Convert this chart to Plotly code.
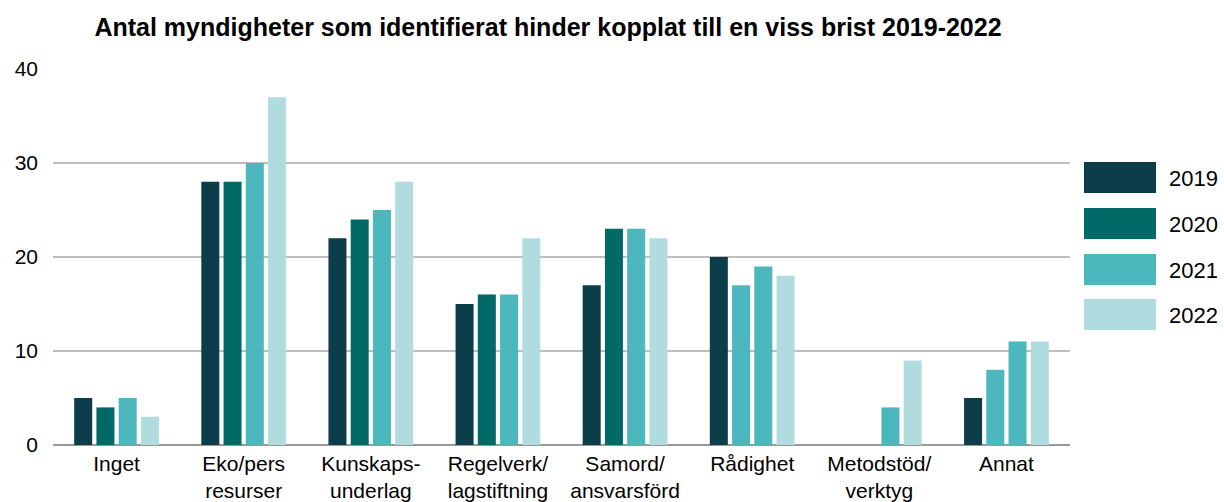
import plotly.graph_objects as go

categories = ["Inget", "Eko/pers<br>resurser", "Kunskaps-<br>underlag", "Regelverk/<br>lagstiftning",
              "Samord/<br>ansvarsförd", "Rådighet", "Metodstöd/<br>verktyg", "Annat"]
years = ["2019", "2020", "2021", "2022"]
v2019 = [5, 28, 22, 15, 17, 20, 0, 5]
v2020 = [4, 28, 24, 16, 23, 17, 0, 8]
v2021 = [5, 30, 25, 16, 23, 19, 4, 11]
v2022 = [3, 37, 28, 22, 22, 18, 9, 11]
colors = ["#0c3e4a", "#016966", "#4cb8bd", "#b0dcdf"]
# In the reference, the 2020 bars for Rådighet and Annat are drawn in the 2021 colour
c2020 = [colors[1]] * 8
c2020[5] = colors[2]
c2020[7] = colors[2]

series = [v2019, v2020, v2021, v2022]
bar_colors = [colors[0], c2020, colors[2], colors[3]]

fig = go.Figure()
for name, vals, col in zip(years, series, bar_colors):
    fig.add_trace(go.Bar(x=categories, y=vals, name=name, marker_color=col,
                         marker_line_width=0, showlegend=False))

W, H = 1224, 502
l, r, t, b = 53, 154, 69, 57
pw = W - l - r
ph = H - t - b

def px_x(x):
    return (x - l) / pw

def px_y(y):
    return 1 - (y - t) / ph

# custom legend with large swatches
leg_tops = [162, 208, 254, 299]
for yr, col, top in zip(years, colors, leg_tops):
    fig.add_shape(type="rect", xref="paper", yref="paper",
                  x0=px_x(1084), x1=px_x(1156), y0=px_y(top + 31), y1=px_y(top),
                  fillcolor=col, line_width=0)
    fig.add_annotation(xref="paper", yref="paper", x=px_x(1167), y=px_y(top + 16),
                       text=yr, showarrow=False, xanchor="left", yanchor="middle",
                       font=dict(size=22, color="#000", family="Liberation Sans, Arial"))

fig.update_layout(
    width=W, height=H,
    margin=dict(l=l, r=r, t=t, b=b, pad=0, autoexpand=False),
    paper_bgcolor="white", plot_bgcolor="white",
    barmode="group", bargap=0.30, bargroupgap=0.19,
    font=dict(family="Liberation Sans, Arial", color="#000"),
    title=dict(text="<b>Antal myndigheter som identifierat hinder kopplat till en viss brist 2019-2022</b>",
               x=px_x(548), xref="paper", xanchor="center", y=1 - 27 / H, yanchor="middle",
               font=dict(size=25, color="#000")),
    showlegend=False,
)
fig.update_yaxes(range=[0, 40], dtick=10, showgrid=True, gridcolor="#bdbdbd", gridwidth=1.5,
                 zeroline=True, zerolinecolor="#999", zerolinewidth=2, automargin=False,
                 tickfont=dict(size=21), ticklabelstandoff=14, showline=False)
fig.update_xaxes(tickfont=dict(size=21), showline=False, ticks="", ticklabelstandoff=4,
                 automargin=False)

fig.write_html("out.html", config={"displayModeBar": False},
               post_script="document.body.style.margin='0';document.body.style.padding='0';")
